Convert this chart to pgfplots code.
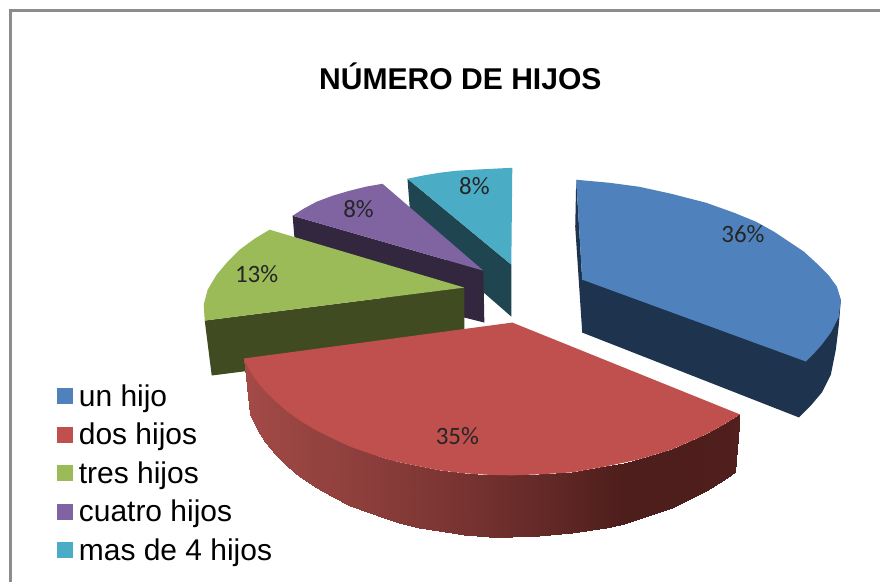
\documentclass[border=0pt]{standalone}
\usepackage{pgfplots}
\pgfplotsset{compat=1.18}
\usepackage{fontspec}
\setmainfont{Liberation Sans}
\newfontfamily\lab{Carlito}
\definecolor{cblue}{RGB}{79,129,189}
\definecolor{cbluedk}{RGB}{30,52,78}
\definecolor{cred}{RGB}{192,80,77}
\definecolor{cgreen}{RGB}{155,187,89}
\definecolor{cgreendk}{RGB}{64,75,33}
\definecolor{cpurple}{RGB}{128,100,162}
\definecolor{cpurpledk}{RGB}{51,38,63}
\definecolor{ccyan}{RGB}{75,172,198}
\definecolor{ccyandk}{RGB}{31,70,80}
\definecolor{cframe}{RGB}{140,140,140}
\begin{document}
\begin{tikzpicture}
\begin{axis}[
  scale only axis, width=881pt, height=583pt,
  xmin=0, xmax=881, ymin=0, ymax=583, y dir=reverse,
  hide axis, clip=false, no markers,
  poly/.style={forget plot, draw=none},
  colormap={redside}{rgb255=(78,30,28) rgb255=(165,75,72)},
  point meta min=78, point meta max=165,
  legend image code/.code={\fill[draw=none,#1] (0pt,-8pt) rectangle (16pt,8pt);},
  legend style={at={(axis cs:57,385)}, anchor=north west, draw=none, fill=none,
    font=\fontsize{30}{34}\selectfont, row sep=15.3pt, inner sep=0pt, outer sep=0pt,
    nodes={inner sep=0pt, outer sep=0pt}, column sep=6pt},
  legend cell align=left,
]
% page background and frame
\addplot[poly, fill=white] coordinates {(0,0)(881,0)(881,583)(0,583)(0,0)};
\addplot[forget plot, color=cframe, line width=2.4pt] coordinates {(10.5,583)(10.5,10.5)(881,10.5)};

% mas de 4 hijos
\addplot[poly, fill=ccyandk] coordinates {(408,179)(512,265)(512,317)(412,230)(408,179)};
\addplot[poly, fill=ccyan] coordinates {(408,179)(425,175.5)(440,173)(457,171)(473,170)(493,169)(513,168)(512,265)(408,179)};

% cuatro hijos
\addplot[poly, fill=cpurpledk] coordinates {(293,216)(484,271)(485,323)(298,276)(293,216)};
\addplot[poly, fill=cpurple] coordinates {(293,216)(304,209)(317,202)(333,196)(350,191)(366,187)(383,184)(484,271)(293,216)};

% tres hijos
\addplot[poly, fill=cgreendk] coordinates {(205,321)(465,288)(465,344)(212,376)(205,321)};
\addplot[poly, fill=cgreen] coordinates {(270,230)(255,239)(240,250)(228,262)(217,275)(208,290)(204,305)(205,321)(465,288)(270,230)};

% dos hijos: side wall, upper edge then lower edge, meta = shade
\addplot[forget plot, surf, shader=interp, mesh/rows=2, point meta=explicit]
  table[x=x, y=y, meta=c] {
x y c
244 359 165
250 371 163
257 381.5 161
265 391 159
275 401 157
287 411.5 155
300 421 152
315 430 149
333 439 146
350 447 143
367 453 140
385 459 136
400 463 133
420 467 129
440 471 125
465 474 119
490 475.5 113
513 476 107
540 475 101
573 473 92
607 467 82
625 464 78
640 460 78
673 450 78
707 435 79
725 425 80
741 415 81
244 359 165
250 415 163
257 430 161
265 443 159
275 455 157
287 467 155
300 478 152
315 488 149
333 498 146
350 506.5 143
367 513 140
385 519 136
400 524 133
420 528.5 129
440 532 125
465 535.5 119
490 537.5 113
513 538 107
540 537 101
573 534 92
607 528.5 82
625 524.5 78
640 520 78
673 509 78
707 492 79
725 481 80
736 473 81
};
% dos hijos: top
\addplot[poly, fill=cred] coordinates {(513,323)(244,359)(250,371)(257,381.5)(265,391)(275,401)(287,411.5)(300,421)(315,430)(333,439)(350,447)(367,453)(385,459)(400,463)(420,467)(440,471)(465,474)(490,475.5)(513,476)(540,475)(573,473)(607,467)(640,460)(673,450)(707,435)(725,425)(741,415)(513,323)};

% un hijo
\addplot[poly, fill=cbluedk] coordinates {(577,180)(576,227)(583,333)(800,418)(812,406)(823,393)(832,375)(837,350)(840,325)(842,300)(583,280)(577,180)};
\addplot[poly, fill=cblue] coordinates {(577,180)(610,183)(640,187)(672,194)(707,203)(735,213)(757,222)(775,232)(790,242)(805,252)(817,263)(830,276)(838,287)(842,300)(840,317)(832,333)(823,345)(815,354)(807,362)(583,280)(577,180)};

% legend
\addlegendimage{fill=cblue}\addlegendentry{un hijo}
\addlegendimage{fill=cred}\addlegendentry{dos hijos}
\addlegendimage{fill=cgreen}\addlegendentry{tres hijos}
\addlegendimage{fill=cpurple}\addlegendentry{cuatro hijos}
\addlegendimage{fill=ccyan}\addlegendentry{mas de 4 hijos}

% title and slice labels
\node[anchor=base, font=\bfseries\fontsize{30.1}{36}\selectfont] at (axis cs:461,89.5) {NÚMERO DE HIJOS};
\node[anchor=base, font=\lab\fontsize{25}{28}\selectfont, text=black!85] at (axis cs:744,243) {36\%};
\node[anchor=base, font=\lab\fontsize{25}{28}\selectfont, text=black!85] at (axis cs:458,445) {35\%};
\node[anchor=base, font=\lab\fontsize{25}{28}\selectfont, text=black!85] at (axis cs:257,283) {13\%};
\node[anchor=base, font=\lab\fontsize{25}{28}\selectfont, text=black!85] at (axis cs:359,218) {8\%};
\node[anchor=base, font=\lab\fontsize{25}{28}\selectfont, text=black!85] at (axis cs:475,195) {8\%};
\end{axis}
\end{tikzpicture}
\end{document}
